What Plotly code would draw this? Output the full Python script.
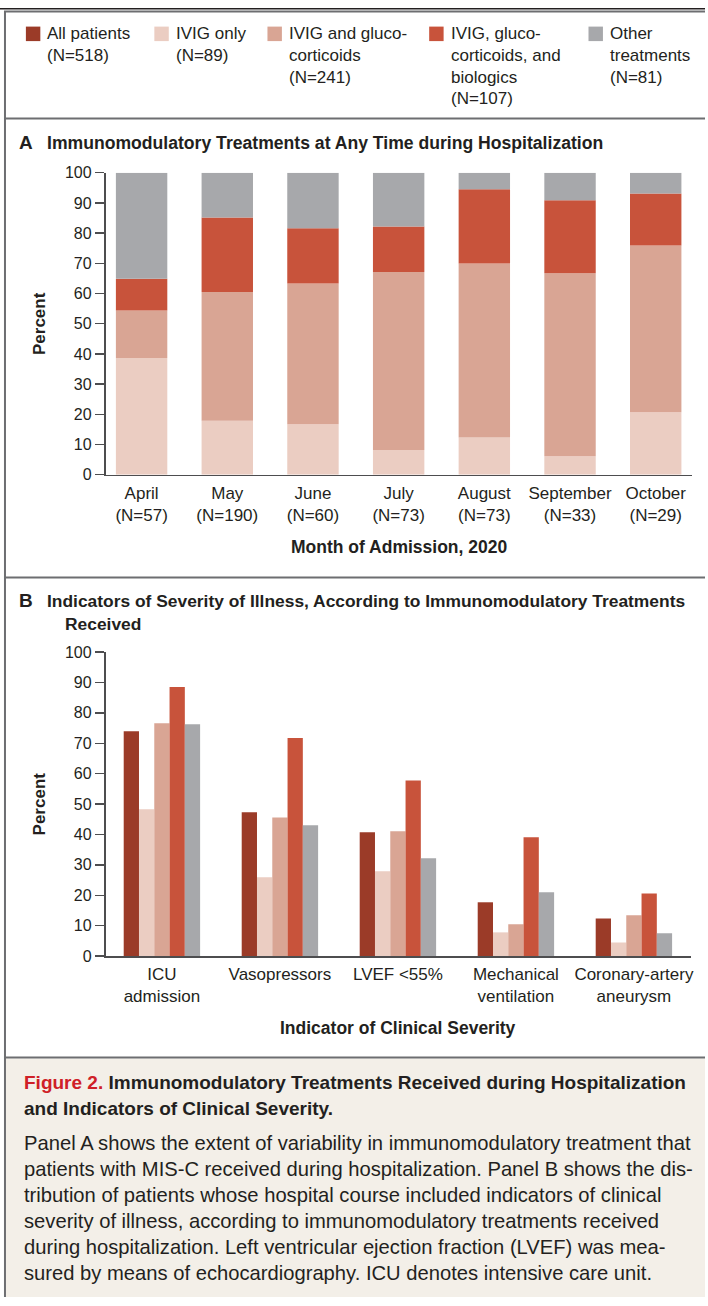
import plotly.graph_objects as go

W, H = 708, 1306
FONT = "Liberation Sans, Arial, sans-serif"
TXT = "#231f20"
AXIS = "#4d4d4f"
FRAME = "#6d6e71"

# ---------------- data ----------------
months = ["April", "May", "June", "July", "August", "September", "October"]
month_n = [57, 190, 60, 73, 73, 33, 29]

# Panel A: percent of patients admitted each month (stacked bottom -> top)
ivig_only_a = [38.6, 17.9, 16.7, 8.2, 12.3, 6.1, 20.7]
ivig_gluco_a = [15.8, 42.6, 46.6, 58.9, 57.6, 60.6, 55.2]
ivig_gluco_bio_a = [10.5, 24.7, 18.3, 15.1, 24.6, 24.2, 17.2]
other_a = [35.1, 14.8, 18.4, 17.8, 5.5, 9.1, 6.9]

# Panel B: percent with each severity indicator, by treatment group
indicators = ["ICU<br>admission", "Vasopressors", "LVEF <55%",
              "Mechanical<br>ventilation", "Coronary-artery<br>aneurysm"]
all_b = [74.0, 47.3, 40.7, 17.7, 12.4]
ivig_only_b = [48.3, 25.9, 27.9, 7.8, 4.5]
ivig_gluco_b = [76.6, 45.6, 41.1, 10.5, 13.4]
ivig_gluco_bio_b = [88.5, 71.7, 57.8, 39.1, 20.6]
other_b = [76.3, 43.0, 32.2, 21.0, 7.5]

group_names = ["All patients", "IVIG only", "IVIG and glucocorticoids",
               "IVIG, glucocorticoids, and biologics", "Other treatments"]
group_n = [518, 89, 241, 107, 81]
legend_lines = [["All patients"], ["IVIG only"], ["IVIG and gluco-", "corticoids"],
                ["IVIG, gluco-", "corticoids, and", "biologics"], ["Other", "treatments"]]
group_colors = ["#9b3b28", "#ebcdc2", "#d9a594", "#c8533b", "#a7a8ab"]

y_ticks = list(range(0, 101, 10))

caption_title = ["<span style='color:#cf2027'>Figure 2.</span> Immunomodulatory Treatments Received during Hospitalization",
                 "and Indicators of Clinical Severity."]
caption_body = ["Panel A shows the extent of variability in immunomodulatory treatment that",
                "patients with MIS-C received during hospitalization. Panel B shows the dis-",
                "tribution of patients whose hospital course included indicators of clinical",
                "severity of illness, according to immunomodulatory treatments received",
                "during hospitalization. Left ventricular ejection fraction (LVEF) was mea-",
                "sured by means of echocardiography. ICU denotes intensive care unit."]

# ---------------- layout helpers (target pixel -> paper) ----------------
# the captured page appears slightly compressed/offset vertically; compensate
SY, OY = 0.987, 7.6

def fx(x):
    return x / W

def fy(y):
    return 1 - ((y - OY) / SY) / H

def fy_page(y):
    return 1 - y / H

A_x, A_y = (106, 695), (172.3, 474.3)
B_x, B_y = (106, 694), (651.7, 955.7)
A_c0, A_step = 142.2, 86.05
B_c0, B_step = 162.6, 118.5

fig = go.Figure()

# Panel A stacked bars
stack_series = [ivig_only_a, ivig_gluco_a, ivig_gluco_bio_a, other_a]
base = [0.0] * len(months)
for k, vals in enumerate(stack_series):
    fig.add_trace(go.Bar(
        x=list(range(len(months))), y=vals, base=base[:], width=0.6,
        marker=dict(color=group_colors[k + 1], line=dict(width=0)),
        name=group_names[k + 1], showlegend=False, xaxis="x", yaxis="y"))
    base = [b + v for b, v in zip(base, vals)]

# Panel B grouped bars
bw = 0.1295
b_series = [all_b, ivig_only_b, ivig_gluco_b, ivig_gluco_bio_b, other_b]
for k, vals in enumerate(b_series):
    fig.add_trace(go.Bar(
        x=[i + (k - 2) * bw for i in range(len(indicators))], y=vals, width=bw,
        marker=dict(color=group_colors[k], line=dict(width=0)),
        name=group_names[k], showlegend=False, xaxis="x2", yaxis="y2"))

tickfont_x = dict(family=FONT, size=17, color=TXT)
tickfont_y = dict(family=FONT, size=16, color=TXT)

fig.update_layout(
    width=W, height=H, margin=dict(l=0, r=0, t=0, b=0),
    paper_bgcolor="white", plot_bgcolor="rgba(0,0,0,0)",
    barmode="overlay", showlegend=False,
    font=dict(family=FONT, color=TXT),
    xaxis=dict(domain=[fx(A_x[0]), fx(A_x[1])],
               range=[(A_x[0] - A_c0) / A_step, (A_x[1] - A_c0) / A_step],
               tickvals=list(range(len(months))),
               ticktext=[f"{m}<br>(N={n})" for m, n in zip(months, month_n)],
               tickfont=tickfont_x, ticks="", ticklabelstandoff=2,
               showline=True, linecolor=AXIS, linewidth=1.7,
               showgrid=False, zeroline=False, anchor="y", fixedrange=True),
    yaxis=dict(domain=[fy(A_y[1]), fy(A_y[0])], range=[0, 100],
               tickvals=y_ticks, tickfont=tickfont_y,
               ticks="outside", ticklen=9, tickwidth=1.4, tickcolor=AXIS,
               showline=True, linecolor=AXIS, linewidth=1.7,
               showgrid=False, zeroline=False, anchor="x", fixedrange=True),
    xaxis2=dict(domain=[fx(B_x[0]), fx(B_x[1])],
                range=[(B_x[0] - B_c0) / B_step, (B_x[1] - B_c0) / B_step],
                tickvals=list(range(len(indicators))), ticktext=indicators,
                tickfont=tickfont_x, ticks="", ticklabelstandoff=2,
                showline=True, linecolor=AXIS, linewidth=1.7,
                showgrid=False, zeroline=False, anchor="y2", fixedrange=True),
    yaxis2=dict(domain=[fy(B_y[1]), fy(B_y[0])], range=[0, 100],
                tickvals=y_ticks, tickfont=tickfont_y,
                ticks="outside", ticklen=9, tickwidth=1.4, tickcolor=AXIS,
                showline=True, linecolor=AXIS, linewidth=1.7,
                showgrid=False, zeroline=False, anchor="x2", fixedrange=True),
)

ann = []

def txt(x, baseline, s, size, bold=False, color=TXT, xanchor="left"):
    ann.append(dict(x=fx(x), y=fy(baseline - 0.35 * size), xref="paper", yref="paper",
                    text=f"<b>{s}</b>" if bold else s, showarrow=False,
                    xanchor=xanchor, yanchor="middle", align="left", borderpad=0,
                    font=dict(family=FONT, size=size, color=color)))

shapes = []

def line(x0, y0, x1, y1, color, width, page=False):
    f = fy_page if page else fy
    shapes.append(dict(type="line", xref="paper", yref="paper",
                       x0=fx(x0), y0=f(y0), x1=fx(x1), y1=f(y1),
                       line=dict(color=color, width=width)))

# caption background
shapes.append(dict(type="rect", xref="paper", yref="paper", layer="below",
                   x0=fx(6), x1=fx(W), y0=fy(1058), y1=0,
                   fillcolor="#f3efe8", line=dict(width=0)))
# frame
line(0, 0.8, W, 0.8, TXT, 1.5, page=True)
line(4, 3.6, W, 3.6, FRAME, 2, page=True)
line(5, 3.6, 5, H, FRAME, 2, page=True)
for yy in (118, 577, 1057):
    line(5, yy, W, yy, FRAME, 2)

# legend (manual)
sq_x = [26, 155, 268.6, 431, 591]
tx_x = [46.5, 176, 289, 451.5, 611.7]
for k in range(len(group_names)):
    shapes.append(dict(type="rect", xref="paper", yref="paper",
                       x0=fx(sq_x[k]), x1=fx(sq_x[k] + 14.5), y0=fy(40.7), y1=fy(26.2),
                       fillcolor=group_colors[k], line=dict(width=0)))
    lines = legend_lines[k] + [f"(N={group_n[k]})"]
    for j, s in enumerate(lines):
        txt(tx_x[k], 39.3 + 21.7 * j, s, 17)

# panel titles
txt(18, 148.3, "A", 19, bold=True)
txt(46.5, 148.3, "Immunomodulatory Treatments at Any Time during Hospitalization", 17.6, bold=True)
txt(18, 606.7, "B", 19, bold=True)
txt(46.5, 606.7, "Indicators of Severity of Illness, According to Immunomodulatory Treatments", 17.4, bold=True)
txt(64.6, 629.3, "Received", 17.4, bold=True)

# axis titles
txt(401, 552.5, "Month of Admission, 2020", 17.5, bold=True, xanchor="center")
txt(400, 1034, "Indicator of Clinical Severity", 17.5, bold=True, xanchor="center")
for yc in ((A_y[0] + A_y[1]) / 2, (B_y[0] + B_y[1]) / 2):
    ann.append(dict(x=fx(39.5), y=fy(yc), xref="paper", yref="paper", text="<b>Percent</b>",
                    showarrow=False, textangle=-90, xanchor="center", yanchor="middle",
                    font=dict(family=FONT, size=17, color=TXT)))

# caption
for j, s in enumerate(caption_title):
    txt(22.6, 1089 + 26 * j, s, 19.0, bold=True)
for j, s in enumerate(caption_body):
    txt(22.6, 1149.3 + 26.1 * j, s, 20.2)

fig.update_layout(annotations=ann, shapes=shapes)
fig.write_html(
    "out.html",
    config={"displayModeBar": False, "responsive": False, "staticPlot": True},
    post_script=(
        "document.documentElement.style.margin='0';"
        "document.documentElement.style.overflow='hidden';"
        "document.body.style.margin='0';document.body.style.padding='0';"
        "document.body.style.overflow='hidden';"
        "var d=document.getElementsByClassName('plotly-graph-div')[0];"
        "if(d){d.style.position='absolute';d.style.left='0px';d.style.top='0px';}"
    ),
)
